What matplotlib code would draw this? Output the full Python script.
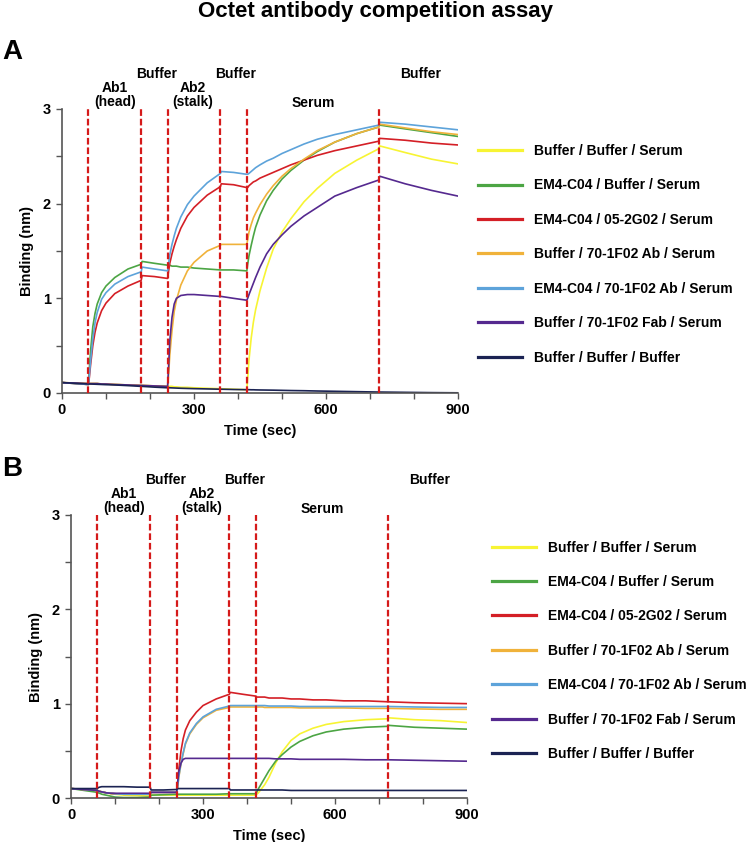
import matplotlib
matplotlib.use("Agg")
import matplotlib.pyplot as plt

plt.rcParams['font.family'] = ['Liberation Sans', 'DejaVu Sans']
plt.rcParams['font.weight'] = 'bold'

labels = ["Buffer / Buffer / Serum", "EM4-C04 / Buffer / Serum", "EM4-C04 / 05-2G02 / Serum",
          "Buffer / 70-1F02 Ab / Serum", "EM4-C04 / 70-1F02 Ab / Serum",
          "Buffer / 70-1F02 Fab / Serum", "Buffer / Buffer / Buffer"]
colors = ["#F7F433", "#4CA544", "#D41F26", "#F0B23A", "#5DA3DA", "#55298F", "#1B2353"]

# phase boundaries (sec)
steps = [60, 180, 240, 360, 420, 720]

# time points (sec)
T = [0, 60, 62, 65, 70, 75, 80, 90, 100, 120,
     150, 180, 182, 210, 240, 242, 245, 250, 255, 260,
     270, 285, 300, 330, 360, 362, 390, 420, 422, 425,
     430, 435, 440, 450, 465, 480, 500, 520, 550, 580,
     620, 670, 720, 722, 780, 840, 900]

# panel A
a_yellow = [0.11, 0.10, 0.10, 0.10, 0.10, 0.10, 0.10, 0.095, 0.095, 0.09,
            0.085, 0.08, 0.08, 0.075, 0.07, 0.07, 0.07, 0.07, 0.065, 0.065,
            0.06, 0.06, 0.055, 0.05, 0.045, 0.045, 0.04, 0.035, 0.15, 0.35,
            0.58, 0.75, 0.88, 1.08, 1.32, 1.52, 1.70, 1.84, 2.02, 2.16,
            2.32, 2.46, 2.58, 2.61, 2.54, 2.47, 2.42]
a_green = [0.11, 0.09, 0.25, 0.45, 0.70, 0.84, 0.94, 1.06, 1.13, 1.22,
           1.31, 1.36, 1.39, 1.37, 1.35, 1.35, 1.35, 1.34, 1.34, 1.34,
           1.33, 1.33, 1.32, 1.31, 1.30, 1.30, 1.30, 1.29, 1.36, 1.45,
           1.56, 1.66, 1.75, 1.88, 2.03, 2.14, 2.26, 2.35, 2.46, 2.55,
           2.65, 2.74, 2.81, 2.83, 2.79, 2.75, 2.71]
a_red = [0.11, 0.09, 0.16, 0.30, 0.50, 0.64, 0.74, 0.87, 0.95, 1.05,
         1.13, 1.19, 1.24, 1.23, 1.21, 1.28, 1.37, 1.47, 1.55, 1.62,
         1.74, 1.87, 1.96, 2.09, 2.18, 2.21, 2.20, 2.17, 2.17, 2.19,
         2.21, 2.23, 2.24, 2.27, 2.30, 2.33, 2.37, 2.41, 2.46, 2.51,
         2.56, 2.61, 2.66, 2.69, 2.67, 2.64, 2.62]
a_orange = [0.11, 0.10, 0.10, 0.10, 0.10, 0.10, 0.10, 0.095, 0.095, 0.09,
            0.085, 0.08, 0.08, 0.075, 0.07, 0.18, 0.40, 0.66, 0.86, 0.98,
            1.14, 1.29, 1.38, 1.50, 1.56, 1.57, 1.57, 1.57, 1.62, 1.70,
            1.78, 1.85, 1.90, 1.99, 2.10, 2.19, 2.29, 2.37, 2.47, 2.56,
            2.65, 2.74, 2.81, 2.84, 2.80, 2.76, 2.73]
a_blue = [0.11, 0.09, 0.18, 0.34, 0.57, 0.74, 0.85, 0.99, 1.06, 1.15,
          1.23, 1.28, 1.33, 1.31, 1.29, 1.36, 1.46, 1.57, 1.66, 1.74,
          1.86, 1.99, 2.08, 2.22, 2.32, 2.34, 2.33, 2.31, 2.31, 2.32,
          2.34, 2.36, 2.38, 2.41, 2.45, 2.48, 2.53, 2.57, 2.63, 2.68,
          2.73, 2.78, 2.83, 2.86, 2.84, 2.81, 2.78]
a_purple = [0.11, 0.10, 0.10, 0.10, 0.10, 0.10, 0.10, 0.095, 0.095, 0.09,
            0.085, 0.08, 0.08, 0.075, 0.07, 0.25, 0.55, 0.80, 0.94, 1.00,
            1.03, 1.04, 1.04, 1.03, 1.02, 1.02, 1.00, 0.98, 1.00, 1.04,
            1.10, 1.16, 1.22, 1.33, 1.47, 1.57, 1.67, 1.76, 1.87, 1.96,
            2.08, 2.17, 2.25, 2.29, 2.21, 2.14, 2.08]
a_navy = [0.11, 0.095, 0.095, 0.095, 0.094, 0.093, 0.092, 0.09, 0.088, 0.085,
          0.078, 0.07, 0.07, 0.062, 0.055, 0.055, 0.055, 0.054, 0.053, 0.052,
          0.05, 0.048, 0.046, 0.043, 0.04, 0.04, 0.037, 0.035, 0.035, 0.035,
          0.034, 0.034, 0.033, 0.032, 0.031, 0.03, 0.028, 0.026, 0.024, 0.021,
          0.018, 0.014, 0.01, 0.01, 0.007, 0.004, 0.002]

# panel B
b_yellow = [0.10, 0.08, 0.075, 0.07, 0.065, 0.06, 0.055, 0.045, 0.04, 0.03,
            0.025, 0.02, 0.03, 0.03, 0.03, 0.03, 0.03, 0.03, 0.03, 0.03,
            0.03, 0.03, 0.03, 0.03, 0.03, 0.03, 0.03, 0.03, 0.04, 0.05,
            0.08, 0.11, 0.14, 0.22, 0.37, 0.49, 0.61, 0.68, 0.74, 0.78,
            0.81, 0.83, 0.84, 0.85, 0.83, 0.82, 0.80]
b_green = [0.10, 0.06, 0.055, 0.05, 0.04, 0.035, 0.03, 0.02, 0.01, 0.005,
           0.005, 0.01, 0.03, 0.035, 0.04, 0.04, 0.04, 0.04, 0.04, 0.04,
           0.04, 0.04, 0.04, 0.04, 0.045, 0.045, 0.045, 0.045, 0.06, 0.09,
           0.13, 0.17, 0.21, 0.29, 0.39, 0.46, 0.54, 0.60, 0.66, 0.70,
           0.73, 0.75, 0.76, 0.77, 0.75, 0.74, 0.73]
b_red = [0.10, 0.08, 0.075, 0.07, 0.065, 0.06, 0.055, 0.05, 0.045, 0.04,
         0.04, 0.04, 0.06, 0.06, 0.06, 0.12, 0.30, 0.50, 0.63, 0.72,
         0.82, 0.91, 0.98, 1.05, 1.10, 1.12, 1.10, 1.08, 1.07, 1.07,
         1.07, 1.07, 1.07, 1.06, 1.06, 1.06, 1.05, 1.05, 1.04, 1.04,
         1.03, 1.03, 1.02, 1.02, 1.01, 1.005, 1.00]
b_orange = [0.10, 0.08, 0.075, 0.07, 0.065, 0.06, 0.055, 0.05, 0.045, 0.04,
            0.04, 0.04, 0.06, 0.06, 0.06, 0.10, 0.22, 0.36, 0.47, 0.57,
            0.68, 0.78, 0.85, 0.93, 0.96, 0.965, 0.965, 0.965, 0.965, 0.965,
            0.965, 0.965, 0.96, 0.96, 0.96, 0.96, 0.96, 0.955, 0.955, 0.955,
            0.955, 0.95, 0.95, 0.95, 0.945, 0.94, 0.94]
b_blue = [0.10, 0.08, 0.075, 0.07, 0.065, 0.06, 0.055, 0.05, 0.045, 0.04,
          0.04, 0.04, 0.06, 0.06, 0.06, 0.10, 0.23, 0.37, 0.48, 0.58,
          0.69, 0.79, 0.86, 0.94, 0.975, 0.98, 0.98, 0.98, 0.98, 0.98,
          0.98, 0.98, 0.98, 0.975, 0.975, 0.975, 0.975, 0.97, 0.97, 0.97,
          0.97, 0.97, 0.97, 0.97, 0.965, 0.96, 0.96]
b_purple = [0.10, 0.08, 0.075, 0.07, 0.065, 0.06, 0.055, 0.05, 0.05, 0.05,
            0.05, 0.05, 0.06, 0.06, 0.06, 0.15, 0.28, 0.37, 0.41, 0.42,
            0.42, 0.42, 0.42, 0.42, 0.42, 0.42, 0.42, 0.42, 0.42, 0.42,
            0.42, 0.42, 0.42, 0.42, 0.415, 0.415, 0.415, 0.41, 0.41, 0.41,
            0.41, 0.405, 0.405, 0.405, 0.40, 0.395, 0.39]
b_navy = [0.10, 0.10, 0.11, 0.115, 0.12, 0.12, 0.12, 0.12, 0.12, 0.12,
          0.115, 0.115, 0.085, 0.085, 0.09, 0.10, 0.10, 0.10, 0.10, 0.10,
          0.10, 0.10, 0.10, 0.10, 0.10, 0.085, 0.085, 0.085, 0.085, 0.085,
          0.085, 0.085, 0.085, 0.085, 0.085, 0.085, 0.08, 0.08, 0.08, 0.08,
          0.08, 0.08, 0.08, 0.08, 0.08, 0.08, 0.08]

panelA = [a_yellow, a_green, a_red, a_orange, a_blue, a_purple, a_navy]
panelB = [b_yellow, b_green, b_red, b_orange, b_blue, b_purple, b_navy]

fig = plt.figure(figsize=(7.5, 8.42), dpi=100)
fig.text(0.5, 1 - 17.5 / 842, "Octet antibody competition assay", ha='center', va='baseline',
         fontsize=16, fontweight='bold')

def draw_panel(rect, series, letter, letter_base, leg_anchor):
    ax = fig.add_axes(rect)
    for vals, c, lab in zip(series, colors, labels):
        ax.plot(T, vals, color=c, lw=1.2, label=lab)
    ax.vlines(steps, 0, 3, colors="#D51A1A", lw=1.6, linestyles=(0, (3, 1.3)), zorder=5)
    ax.set_xlim(0, 900)
    ax.set_ylim(0, 3)
    ax.set_xticks([0, 300, 600, 900])
    ax.set_xticks(range(0, 901, 100), minor=True)
    ax.set_yticks([0, 1, 2, 3])
    ax.set_yticks([0.5, 1.5, 2.5], minor=True)
    for s in ['top', 'right']:
        ax.spines[s].set_visible(False)
    for s in ['left', 'bottom']:
        ax.spines[s].set_color('#555555')
        ax.spines[s].set_linewidth(1.2)
    ax.tick_params(which='both', length=4, width=1, color='#555555', labelsize=10.5)
    ax.tick_params(axis='y', pad=4)
    ax.set_xlabel("Time (sec)", fontsize=10.5, fontweight='bold', labelpad=5)
    ax.set_ylabel("Binding (nm)", fontsize=10.5, fontweight='bold', labelpad=6)
    # phase labels
    kw = dict(ha='center', va='center', fontsize=10, fontweight='bold', clip_on=False)
    ax.text(120, 3.15, "Ab1\n(head)", linespacing=1.05, **kw)
    ax.text(214, 3.37, "Buffer", **kw)
    ax.text(298, 3.15, "Ab2\n(stalk)", linespacing=1.05, **kw)
    ax.text(395, 3.37, "Buffer", **kw)
    ax.text(570, 3.06, "Serum", **kw)
    ax.text(815, 3.37, "Buffer", **kw)
    fig.text(0.003, letter_base, letter, ha='left', va='baseline', fontsize=20,
             fontweight='bold')
    leg = ax.legend(loc='upper left', bbox_to_anchor=leg_anchor, bbox_transform=fig.transFigure,
                    frameon=False, fontsize=10, handlelength=3.2, handletextpad=0.8,
                    labelspacing=1.47, borderpad=0, borderaxespad=0)
    for h in leg.legend_handles:
        h.set_linewidth(2.3)
    return ax

draw_panel([62 / 750, 449 / 842, 396 / 750, 284 / 842], panelA, "A", 1 - 59 / 842,
           (478 / 750, 1 - 144 / 842))
draw_panel([71 / 750, 44 / 842, 396 / 750, 283 / 842], panelB, "B", 1 - 476 / 842,
           (492 / 750, 1 - 540.5 / 842))

fig.savefig("out.png", dpi=100)
